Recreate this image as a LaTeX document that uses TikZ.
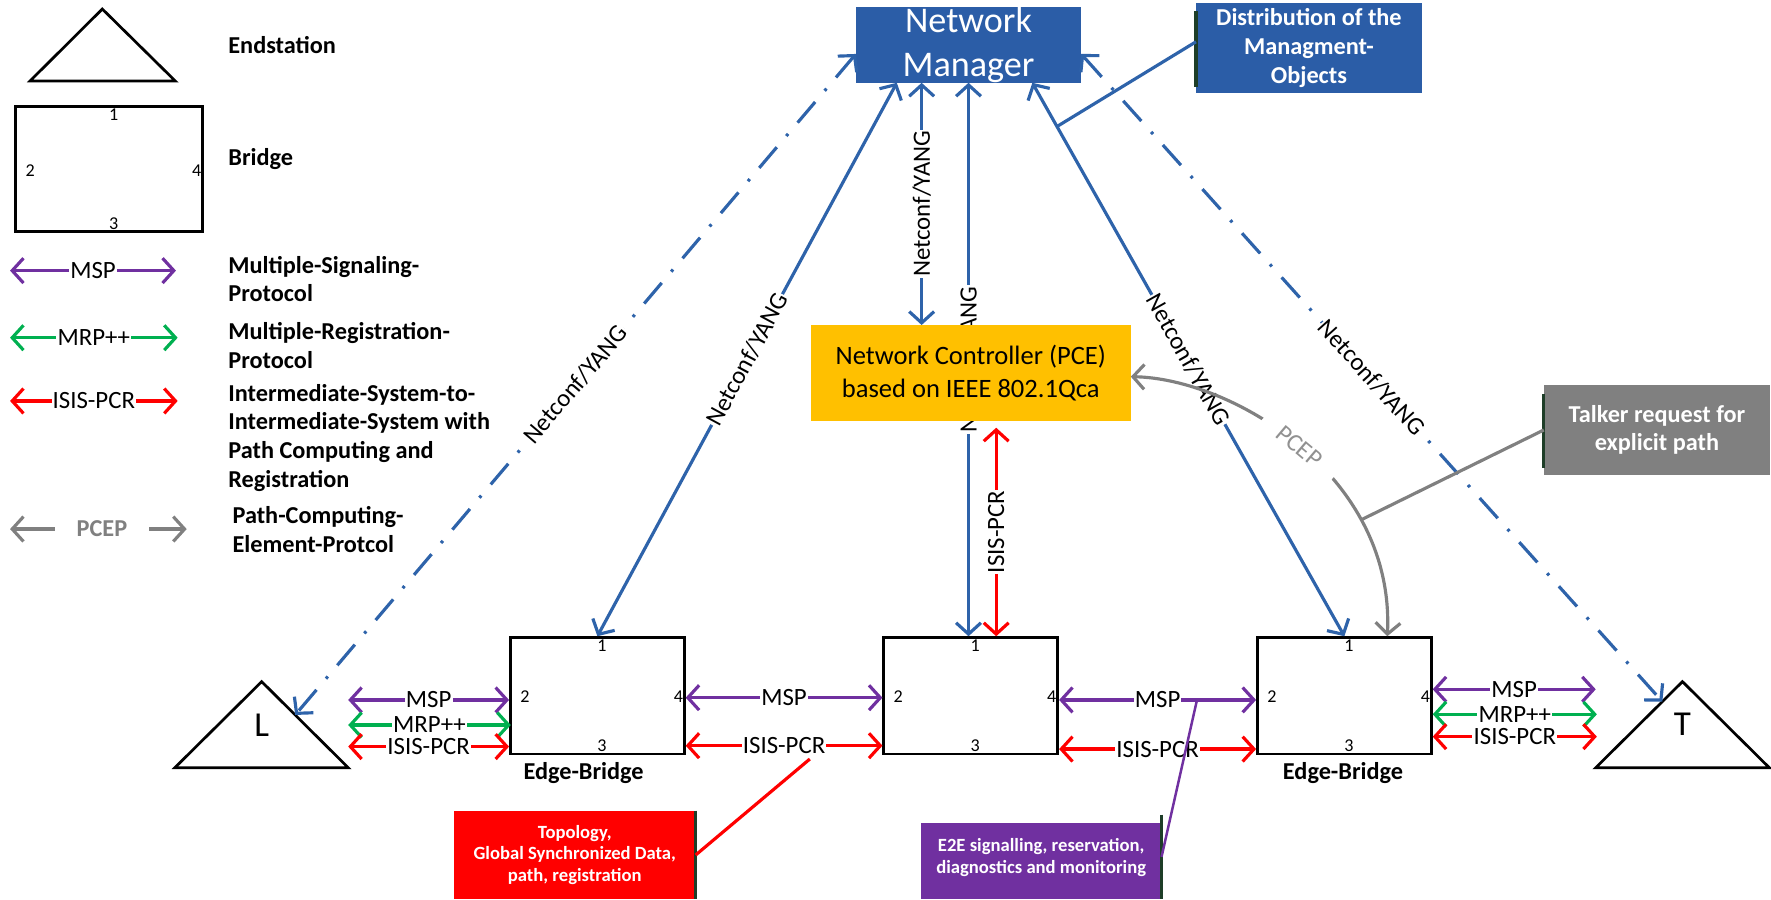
\documentclass[tikz,border=0pt]{standalone}
\usepackage{fontspec}
\setmainfont{Carlito}
\usetikzlibrary{arrows.meta,calc}
\definecolor{mblue}{RGB}{46,99,170}
\definecolor{bxblue}{RGB}{43,93,167}
\definecolor{mpurple}{RGB}{112,48,160}
\definecolor{mgreen}{RGB}{0,176,80}
\definecolor{mred}{RGB}{255,0,0}
\definecolor{mgray}{RGB}{128,128,128}
\definecolor{ltgray}{RGB}{145,145,145}
\definecolor{myellow}{RGB}{255,192,0}
\definecolor{dgreen}{RGB}{30,62,40}
\newcommand{\fLab}{\fontsize{22}{25}\selectfont}
\newcommand{\fBld}{\fontsize{21.5}{25.5}\selectfont\bfseries}
\newcommand{\fNum}{\fontsize{16}{18}\selectfont}
\newcommand{\fSml}{\fontsize{16.5}{19.2}\selectfont\bfseries}
\newcommand{\fNM}{\fontsize{32}{39}\selectfont}
\newcommand{\fNC}{\fontsize{23.5}{29.5}\selectfont}
\newcommand{\fLT}{\fontsize{31}{36}\selectfont}
\newcommand{\fPC}{\fontsize{22}{26}\selectfont}
\newcommand{\ports}[1]{%
  \node[port] (#1-1) at ([xshift=4pt,yshift=-8.5pt]#1.north) {1};
  \node[port] (#1-2) at ([xshift=14pt,yshift=-1pt]#1.west) {2};
  \node[port] (#1-4) at ([xshift=-6.5pt,yshift=-1pt]#1.east) {4};
  \node[port] (#1-3) at ([xshift=4pt,yshift=8.5pt]#1.south) {3};
}
\tikzset{
  link/.style={line width=2.8pt},
  msp/.style={link, draw=mpurple, <->},
  mrp/.style={link, draw=mgreen, <->},
  isis/.style={link, draw=mred, <->},
  nconf/.style={link, draw=mblue, <->},
  dashdot/.style={link, draw=mblue, <->, dash pattern=on 24pt off 13pt on 2.5pt off 13pt},
  pcep/.style={link, draw=mgray, <->},
  lab/.style={fill=white, inner xsep=1pt, inner ysep=0.5pt, font=\fLab, text=black},
  bridge/.style={draw=black, line width=2.4pt, minimum width=154pt, minimum height=103pt, inner sep=0pt},
  port/.style={font=\fNum, inner sep=0pt},
  ltext/.style={anchor=west, font=\fBld, inner sep=0pt, align=left},
  callout/.style={text=white, font=\fBld, align=center, inner sep=0pt},
  bar/.style={draw=dgreen, line width=3pt},
  tri/.style={draw=black, line width=2.4pt, line join=miter},
}
\begin{document}
\begin{tikzpicture}[x=1pt,y=-1pt,>={Straight Barb[length=10pt,width=22pt]}]
\useasboundingbox (0,0) rectangle (1568,796);

% ---------------- Legend ----------------
\draw[tri] (90.6,8) coordinate (E-a) -- (155.2,71.7) coordinate (E-r) -- (26.6,71.7) coordinate (E-l) -- cycle;
\node[ltext] (tEnd) at (202,39.8) {Endstation};
\node[bridge, minimum width=165.5pt, minimum height=110.7pt] (lb) at (96.7,149.8) {};
\ports{lb}
\node[ltext] (tBr) at (202,140.8) {Bridge};

\draw[msp] (8.9,239.6) coordinate (lm1) -- node[lab] (lmL) {MSP} (155.8,239.6) coordinate (lm2);
\node[ltext] (tMsp) at (202,247) {Multiple-Signaling-\\Protocol};
\draw[mrp] (8.9,299) coordinate (lr1) -- node[lab] (lrL) {MRP++} (157.3,299) coordinate (lr2);
\node[ltext] (tMrp) at (202,306) {Multiple-Registration-\\Protocol};
\draw[isis] (8.9,355) coordinate (li1) -- node[lab] (liL) {ISIS-PCR} (157.3,355) coordinate (li2);
\node[ltext] (tIsis) at (202,387.6) {Intermediate-System-to-\\Intermediate-System with\\Path Computing and\\Registration};
\draw[pcep] (8.9,468.4) coordinate (lp1) -- node[pos=0.52, fill=white, inner xsep=19pt, inner ysep=1pt, text=mgray, font=\fBld] (lpL) {PCEP} (165.3,468.4) coordinate (lp2);
\node[ltext] (tPcep) at (205.7,468.5) {Path-Computing-\\Element-Protcol};

% ---------------- Main nodes ----------------
\node[fill=bxblue, minimum width=199pt, minimum height=65pt, inner sep=0pt, text=white, font=\fNM, align=center] (nm) at (857.5,39.75) {Network\\Manager};
\node[fill=bxblue, minimum width=199.7pt, minimum height=79pt, callout] (dist) at (1158.9,42.5) {Distribution of the\\Managment-\\Objects};

\node[bridge] (b1) at (528.9,616) {};
\node[bridge] (b2) at (859.5,616) {};
\node[bridge] (b3) at (1190.3,616) {};
\ports{b1}
\ports{b2}
\ports{b3}
\node[font=\fBld, inner sep=0pt] (eb1) at (516.7,684) {Edge-Bridge};
\node[font=\fBld, inner sep=0pt] (eb3) at (1189.1,684) {Edge-Bridge};

% end stations
\draw[tri] (231.7,603.5) coordinate (L-a) -- (308.3,679.7) coordinate (L-r) -- (154.8,679.7) coordinate (L-l) -- cycle;
\path (L-a) -- coordinate[pos=0.387] (Lside) (L-r);
\node[font=\fLT, inner sep=0pt] (L) at (231.7,642) {L};
\draw[tri] (1489.6,603.5) coordinate (T-a) -- (1566.5,679.7) coordinate (T-r) -- (1412.8,679.7) coordinate (T-l) -- cycle;
\path (T-a) -- coordinate[pos=0.232] (Tside) (T-l);
\node[font=\fLT, inner sep=0pt] (T) at (1489.6,641) {T};

% ---------------- Management connectors ----------------
\draw[dashdot] ([yshift=-8pt]nm.west) -- node[lab, sloped] (lNL) {Netconf/YANG} (Lside);
\draw[dashdot] ([yshift=-8pt]nm.east) -- node[lab, sloped] (lNT) {Netconf/YANG} (Tside);
\draw[nconf] ([xshift=-63.5pt]nm.south) -- node[lab, sloped] (lNB1) {Netconf/YANG} (b1.north);
\draw[nconf] ([xshift=56.5pt]nm.south) -- coordinate[pos=0.079] (dm) node[lab, sloped] (lNB3) {Netconf/YANG} (b3.north);
\coordinate (nmA) at ([xshift=-41.5pt]nm.south);
\draw[nconf] (nmA) -- node[lab, rotate=90] (lNNC) {Netconf/YANG} (nmA |- 0,287.75);
\draw[nconf] (nm.south) -- node[lab, rotate=90] (lNB2) {Netconf/YANG} (nm.south |- b2.north);

\node[fill=myellow, minimum width=283pt, minimum height=85pt, inner sep=0pt, font=\fNC, align=center] (nc) at (859.5,330.5) {Network Controller (PCE)\\based on IEEE 802.1Qca};

\coordinate (ncR) at ([xshift=22.5pt,yshift=-5.5pt]nc.south);
\draw[isis] (ncR) -- node[lab, rotate=90] (lNCB2) {ISIS-PCR} (ncR |- b2.north);

\draw[pcep] ([xshift=38pt]b3.north) .. controls (1235,420) and (1090,335) .. node[pos=0.5, sloped, fill=white, inner xsep=18pt, inner ysep=1pt, text=ltgray, font=\fPC] (lpc) {PCEP} coordinate[pos=0.27] (pc) ([yshift=-3pt]nc.east);

% ---------------- Horizontal links ----------------
\coordinate (a1) at ([yshift=-3.7pt]b1.west);
\coordinate (a2) at ([yshift=-25.9pt]b1.west);
\coordinate (a3) at ([yshift=-45pt]b1.west);
\draw[msp] (L-r |- a1) -- node[lab] (l1m) {MSP} (a1);
\draw[mrp] (L-r |- a2) -- node[lab] (l1r) {MRP++} ([xshift=1.5pt]a2);
\draw[isis] (L-r |- a3) -- node[lab] (l1i) {ISIS-PCR} (a3);

\draw[msp] ([yshift=-1.7pt]b1.east) -- node[lab] (l2m) {MSP} ([yshift=-1.7pt]b2.west);
\draw[isis] ([yshift=-44.2pt]b1.east) -- node[lab] (l2i) {ISIS-PCR} ([yshift=-44.2pt]b2.west);

\draw[msp] ([yshift=-3.7pt]b2.east) -- node[lab] (l3m) {MSP} coordinate[pos=0.7] (e2eEnd) ([yshift=-3.7pt]b3.west);
\draw[isis] ([yshift=-47.2pt]b2.east) -- node[lab] (l3i) {ISIS-PCR} ([yshift=-47.2pt]b3.west);

\coordinate (c1) at ([yshift=5.7pt]b3.east);
\coordinate (c2) at ([yshift=-16.4pt]b3.east);
\coordinate (c3) at ([yshift=-36.2pt]b3.east);
\draw[msp] (c1) -- node[lab] (l4m) {MSP} (T-l |- c1);
\draw[mrp] (c2) -- node[lab] (l4r) {MRP++} ([xshift=1pt]T-l |- c2);
\draw[isis] (c3) -- node[lab] (l4i) {ISIS-PCR} ([xshift=1pt]T-l |- c3);

% ---------------- Callouts ----------------
\node[fill=mgray, minimum width=200pt, minimum height=79.5pt, callout, font=\fontsize{21.5}{25}\selectfont\bfseries] (talk) at (1467,380.7) {Talker request for\\explicit path};
\draw[bar] ([yshift=-8pt]talk.north west) -- ([yshift=6pt]talk.south west);
\draw[link, draw=mgray] (talk.west) -- (pc);

\draw[bar] ([yshift=-7.3pt]dist.north west) -- ([yshift=5.3pt]dist.south west);
\draw[link, draw=mblue] ([yshift=5.5pt]dist.west) -- (dm);

\node[fill=mred, minimum width=213.7pt, minimum height=78pt, callout, font=\fSml] (topo) at (508.85,757) {Topology,\\Global Synchronized Data,\\path, registration};
\draw[bar] (topo.north east) -- (topo.south east);
\coordinate (topoEnd) at (717,672);
\draw[link, draw=mred] (topo.east) -- (topoEnd);

\node[fill=mpurple, minimum width=212.8pt, minimum height=67.7pt, inner sep=0pt] (e2e) at (921.8,762.2) {};
\node[callout, font=\fSml] (e2eT) at (921.8,759.5) {E2E signalling, reservation,\\diagnostics and monitoring};
\draw[bar] ([yshift=7pt]e2e.north east) -- (e2e.south east);
\draw[line width=2.2pt, draw=mpurple] ([yshift=3.6pt]e2e.east) -- (e2eEnd);
\end{tikzpicture}
\end{document}
